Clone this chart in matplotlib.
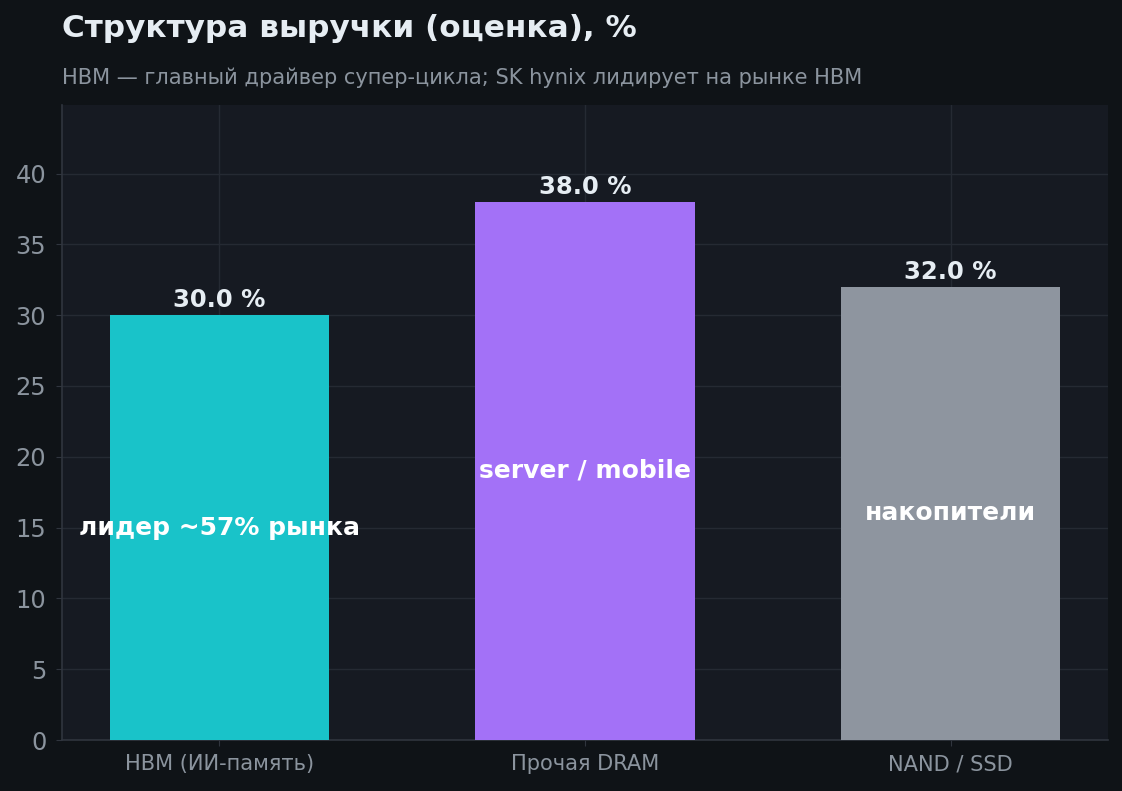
import matplotlib
matplotlib.use("Agg")
import matplotlib.pyplot as plt

categories = ["HBM (ИИ-память)", "Прочая DRAM", "NAND / SSD"]
values = [30.0, 38.0, 32.0]
inner_labels = ["лидер ~57% рынка", "server / mobile", "накопители"]
colors = ["#19c3c9", "#a371f7", "#8e959f"]

title = "Структура выручки (оценка), %"
subtitle = "HBM — главный драйвер супер-цикла; SK hynix лидирует на рынке HBM"

plt.rcParams['font.family'] = ['DejaVu Sans']

fig = plt.figure(figsize=(11.22, 7.91), dpi=100, facecolor="#0f1317")
ax = fig.add_axes([62/1122, 1 - 740/791, (1108-62)/1122, (740-105)/791])
ax.set_facecolor("#161a22")

x = list(range(len(categories)))
bars = ax.bar(x, values, width=0.6, color=colors, zorder=3)
ax.set_ylim(0, max(values) * 1.18)
ax.set_xticks(x)
ax.set_xticklabels(categories)

ax.grid(True, color="#252a33", linewidth=1, zorder=0)
ax.set_axisbelow(True)
for s in ["top", "right"]:
    ax.spines[s].set_visible(False)
for s in ["left", "bottom"]:
    ax.spines[s].set_color("#30353e")
    ax.spines[s].set_linewidth(1.2)

ax.tick_params(axis="y", colors="#30353e", labelcolor="#8b949e", labelsize=17.4, length=4.3, pad=7)
ax.tick_params(axis="x", colors="#30353e", labelcolor="#8b949e", labelsize=15.1, length=4.3, pad=6)

for b, v, lab in zip(bars, values, inner_labels):
    cx = b.get_x() + b.get_width() / 2
    ax.text(cx, v + 0.2, f"{v:.1f} %", ha="center", va="bottom",
            color="#e6edf3", fontsize=17.5, fontweight="bold", zorder=4)
    ax.text(cx, v / 2, lab, ha="center", va="center",
            color="#ffffff", fontsize=18, fontweight="bold", zorder=4)

fig.text(62/1122, 1 - 28.5/791, title, ha="left", va="center",
         color="#e6edf3", fontsize=22.4, fontweight="bold")
fig.text(62/1122, 1 - 77.5/791, subtitle, ha="left", va="center",
         color="#8b949e", fontsize=15.1)

fig.savefig("out.png", dpi=100, facecolor=fig.get_facecolor())
